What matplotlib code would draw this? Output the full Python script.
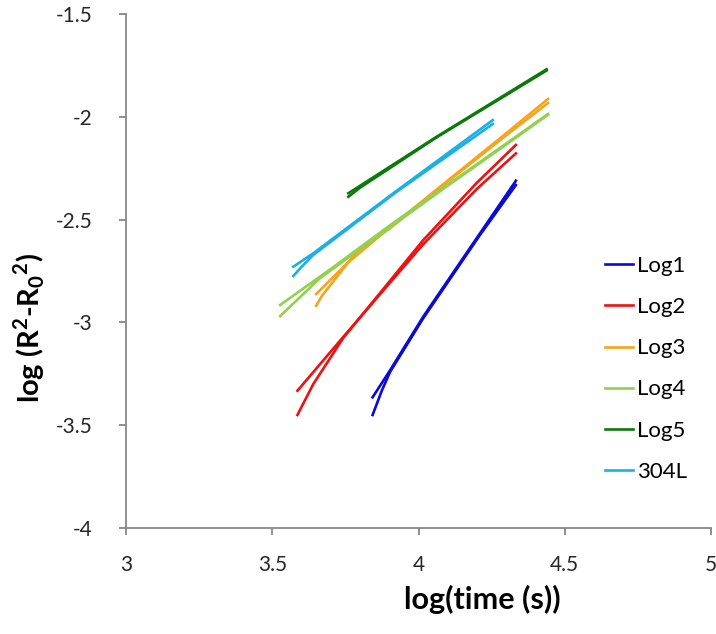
import matplotlib.pyplot as plt

plt.rcParams['font.family'] = ['Lato', 'DejaVu Sans']
plt.rcParams['mathtext.fontset'] = 'custom'
plt.rcParams['mathtext.rm'] = 'Lato'
plt.rcParams['mathtext.bf'] = 'Lato:bold'

# two runs per sample (log time, log(R^2-R0^2))
log1_a_x = [3.843, 3.903, 4.016, 4.210, 4.333]
log1_a_y = [-3.364, -3.232, -2.972, -2.567, -2.311]
log1_b_x = [3.843, 3.875, 3.903, 4.016, 4.210, 4.333]
log1_b_y = [-3.450, -3.330, -3.240, -2.980, -2.575, -2.332]

log2_a_x = [3.586, 3.743, 4.016, 4.200, 4.333]
log2_a_y = [-3.332, -3.070, -2.620, -2.350, -2.178]
log2_b_x = [3.586, 3.640, 3.743, 4.016, 4.200, 4.333]
log2_b_y = [-3.450, -3.300, -3.075, -2.600, -2.320, -2.137]

log3_a_x = [3.650, 3.750, 3.900, 4.100, 4.300, 4.443]
log3_a_y = [-2.862, -2.720, -2.540, -2.310, -2.080, -1.913]
log3_b_x = [3.650, 3.670, 3.720, 3.789, 3.900, 4.100, 4.300, 4.443]
log3_b_y = [-2.919, -2.870, -2.780, -2.655, -2.545, -2.315, -2.090, -1.933]

log4_a_x = [3.527, 3.700, 3.900, 4.100, 4.300, 4.443]
log4_a_y = [-2.915, -2.740, -2.530, -2.330, -2.130, -1.986]
log4_b_x = [3.527, 3.600, 3.663, 3.900, 4.100, 4.300, 4.443]
log4_b_y = [-2.969, -2.870, -2.785, -2.540, -2.335, -2.135, -1.990]

log5_a_x = [3.760, 4.062, 4.438]
log5_a_y = [-2.372, -2.097, -1.769]
log5_b_x = [3.760, 3.800, 4.062, 4.438]
log5_b_y = [-2.389, -2.345, -2.100, -1.775]

s304_a_x = [3.572, 3.640, 3.925, 4.254]
s304_a_y = [-2.729, -2.664, -2.360, -2.016]
s304_b_x = [3.572, 3.600, 3.640, 3.925, 4.254]
s304_b_y = [-2.774, -2.730, -2.672, -2.365, -2.035]

series = [
    ("Log1", "#0a0ad6", log1_a_x, log1_a_y, log1_b_x, log1_b_y),
    ("Log2", "#ee1111", log2_a_x, log2_a_y, log2_b_x, log2_b_y),
    ("Log3", "#f7a41c", log3_a_x, log3_a_y, log3_b_x, log3_b_y),
    ("Log4", "#92d050", log4_a_x, log4_a_y, log4_b_x, log4_b_y),
    ("Log5", "#0b7a0b", log5_a_x, log5_a_y, log5_b_x, log5_b_y),
    ("304L", "#19b0e6", s304_a_x, s304_a_y, s304_b_x, s304_b_y),
]

fig = plt.figure(figsize=(7.16, 6.34), dpi=100)
ax = fig.add_axes([0.176, 0.167, 0.817, 0.811])

for name, col, xa, ya, xb, yb in series:
    ax.plot(xa, ya, color=col, linewidth=1.9, label=name)
    ax.plot(xb, yb, color=col, linewidth=1.9)

ax.set_xlim(3, 5)
ax.set_ylim(-4, -1.5)
ax.set_xticks([3, 3.5, 4, 4.5, 5])
ax.set_xticklabels(["3", "3.5", "4", "4.5", "5"])
ax.set_yticks([-4, -3.5, -3, -2.5, -2, -1.5])
ax.set_yticklabels(["-4", "-3.5", "-3", "-2.5", "-2", "-1.5"])

for side in ["top", "right"]:
    ax.spines[side].set_visible(False)
for side in ["left", "bottom"]:
    ax.spines[side].set_color("#878787")
    ax.spines[side].set_linewidth(1.3)
ax.tick_params(direction="out", length=5, width=1.3, color="#878787",
               labelsize=15, labelcolor="#262626")
ax.tick_params(axis="y", pad=19)
ax.tick_params(axis="x", pad=14)

# axis titles sit off-centre, as in the original
ax.set_xlabel("log(time (s))", fontsize=22, fontweight="bold")
ax.xaxis.set_label_coords(0.609, -0.11)
ax.set_ylabel(r"log (R$^\mathbf{2}$-R$_\mathbf{0}$$^\mathbf{2}$)", fontsize=21,
              fontweight="bold")
ax.yaxis.set_label_coords(-0.135, 0.389)

ax.legend(loc="upper left", bbox_to_anchor=(0.819, 0.529), frameon=False,
          fontsize=16, handlelength=1.25, handletextpad=0.18,
          labelspacing=0.95, borderpad=0, borderaxespad=0)

fig.savefig("out.png", dpi=100)
